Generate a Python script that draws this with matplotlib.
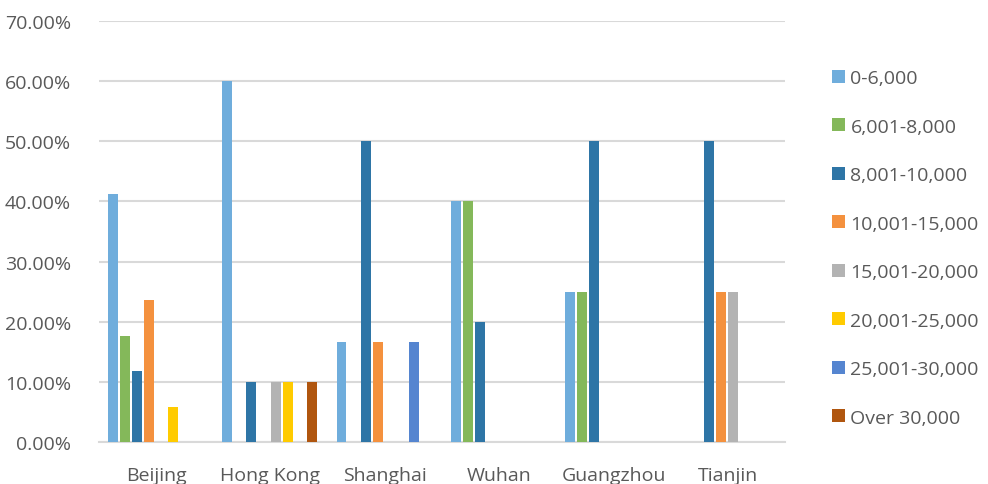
import numpy as np
import matplotlib
matplotlib.use("Agg")
import matplotlib.pyplot as plt
from matplotlib.ticker import PercentFormatter

plt.rcParams['font.family'] = ['Open Sans', 'DejaVu Sans']

cities = ["Beijing", "Hong Kong", "Shanghai", "Wuhan", "Guangzhou", "Tianjin"]
ranges = ["0-6,000", "6,001-8,000", "8,001-10,000", "10,001-15,000",
          "15,001-20,000", "20,001-25,000", "25,001-30,000", "Over 30,000"]
colors = ["#6FADDC", "#84B85A", "#2E75A6", "#F4913E",
          "#B3B3B3", "#FFCB00", "#5585D0", "#B0560F"]

# share of respondents per income range (%), one row per range
r0_6000 = [41.18, 60.0, 16.67, 40.0, 25.0, 0]
r6001_8000 = [17.65, 0, 0, 40.0, 25.0, 0]
r8001_10000 = [11.76, 10.0, 50.0, 20.0, 50.0, 50.0]
r10001_15000 = [23.53, 0, 16.67, 0, 0, 25.0]
r15001_20000 = [0, 10.0, 0, 0, 0, 25.0]
r20001_25000 = [5.88, 10.0, 0, 0, 0, 0]
r25001_30000 = [0, 0, 16.67, 0, 0, 0]
over_30000 = [0, 10.0, 0, 0, 0, 0]
series = [r0_6000, r6001_8000, r8001_10000, r10001_15000,
          r15001_20000, r20001_25000, r25001_30000, over_30000]

fig = plt.figure(figsize=(9.88, 4.85), dpi=100)
ax = fig.add_axes([99/988, 42/485, 686/988, 421/485])

x = np.arange(len(cities))
step = 0.106
width = 0.087
for i, (vals, lab, c) in enumerate(zip(series, ranges, colors)):
    ax.bar(x + (i - 3.5) * step - 0.008, vals, width, color=c, label=lab, zorder=3)

ax.set_xlim(-0.5, len(cities) - 0.5)
ax.set_ylim(0, 70)
ax.set_yticks(np.arange(0, 71, 10))
ax.yaxis.set_major_formatter(PercentFormatter(decimals=2))
ax.set_xticks(x)
ax.set_xticklabels(cities)

ax.grid(axis='y', color='#D9D9D9', linewidth=1.5, zorder=0)
for s in ['top', 'right', 'left']:
    ax.spines[s].set_visible(False)
ax.spines['bottom'].set_color('#D9D9D9')
ax.spines['bottom'].set_linewidth(1.5)
ax.tick_params(length=0, labelsize=14, labelcolor='#595959')
ax.tick_params(axis='x', pad=17)
ax.tick_params(axis='y', pad=20)

fig.legend(loc='upper left', bbox_to_anchor=(832/988, 1 - 70/485),
           frameon=False, fontsize=14, labelcolor='#595959',
           handlelength=0.65, handleheight=0.65, handletextpad=0.3,
           labelspacing=1.57, borderaxespad=0, borderpad=0)

fig.savefig("out.png", dpi=100)
